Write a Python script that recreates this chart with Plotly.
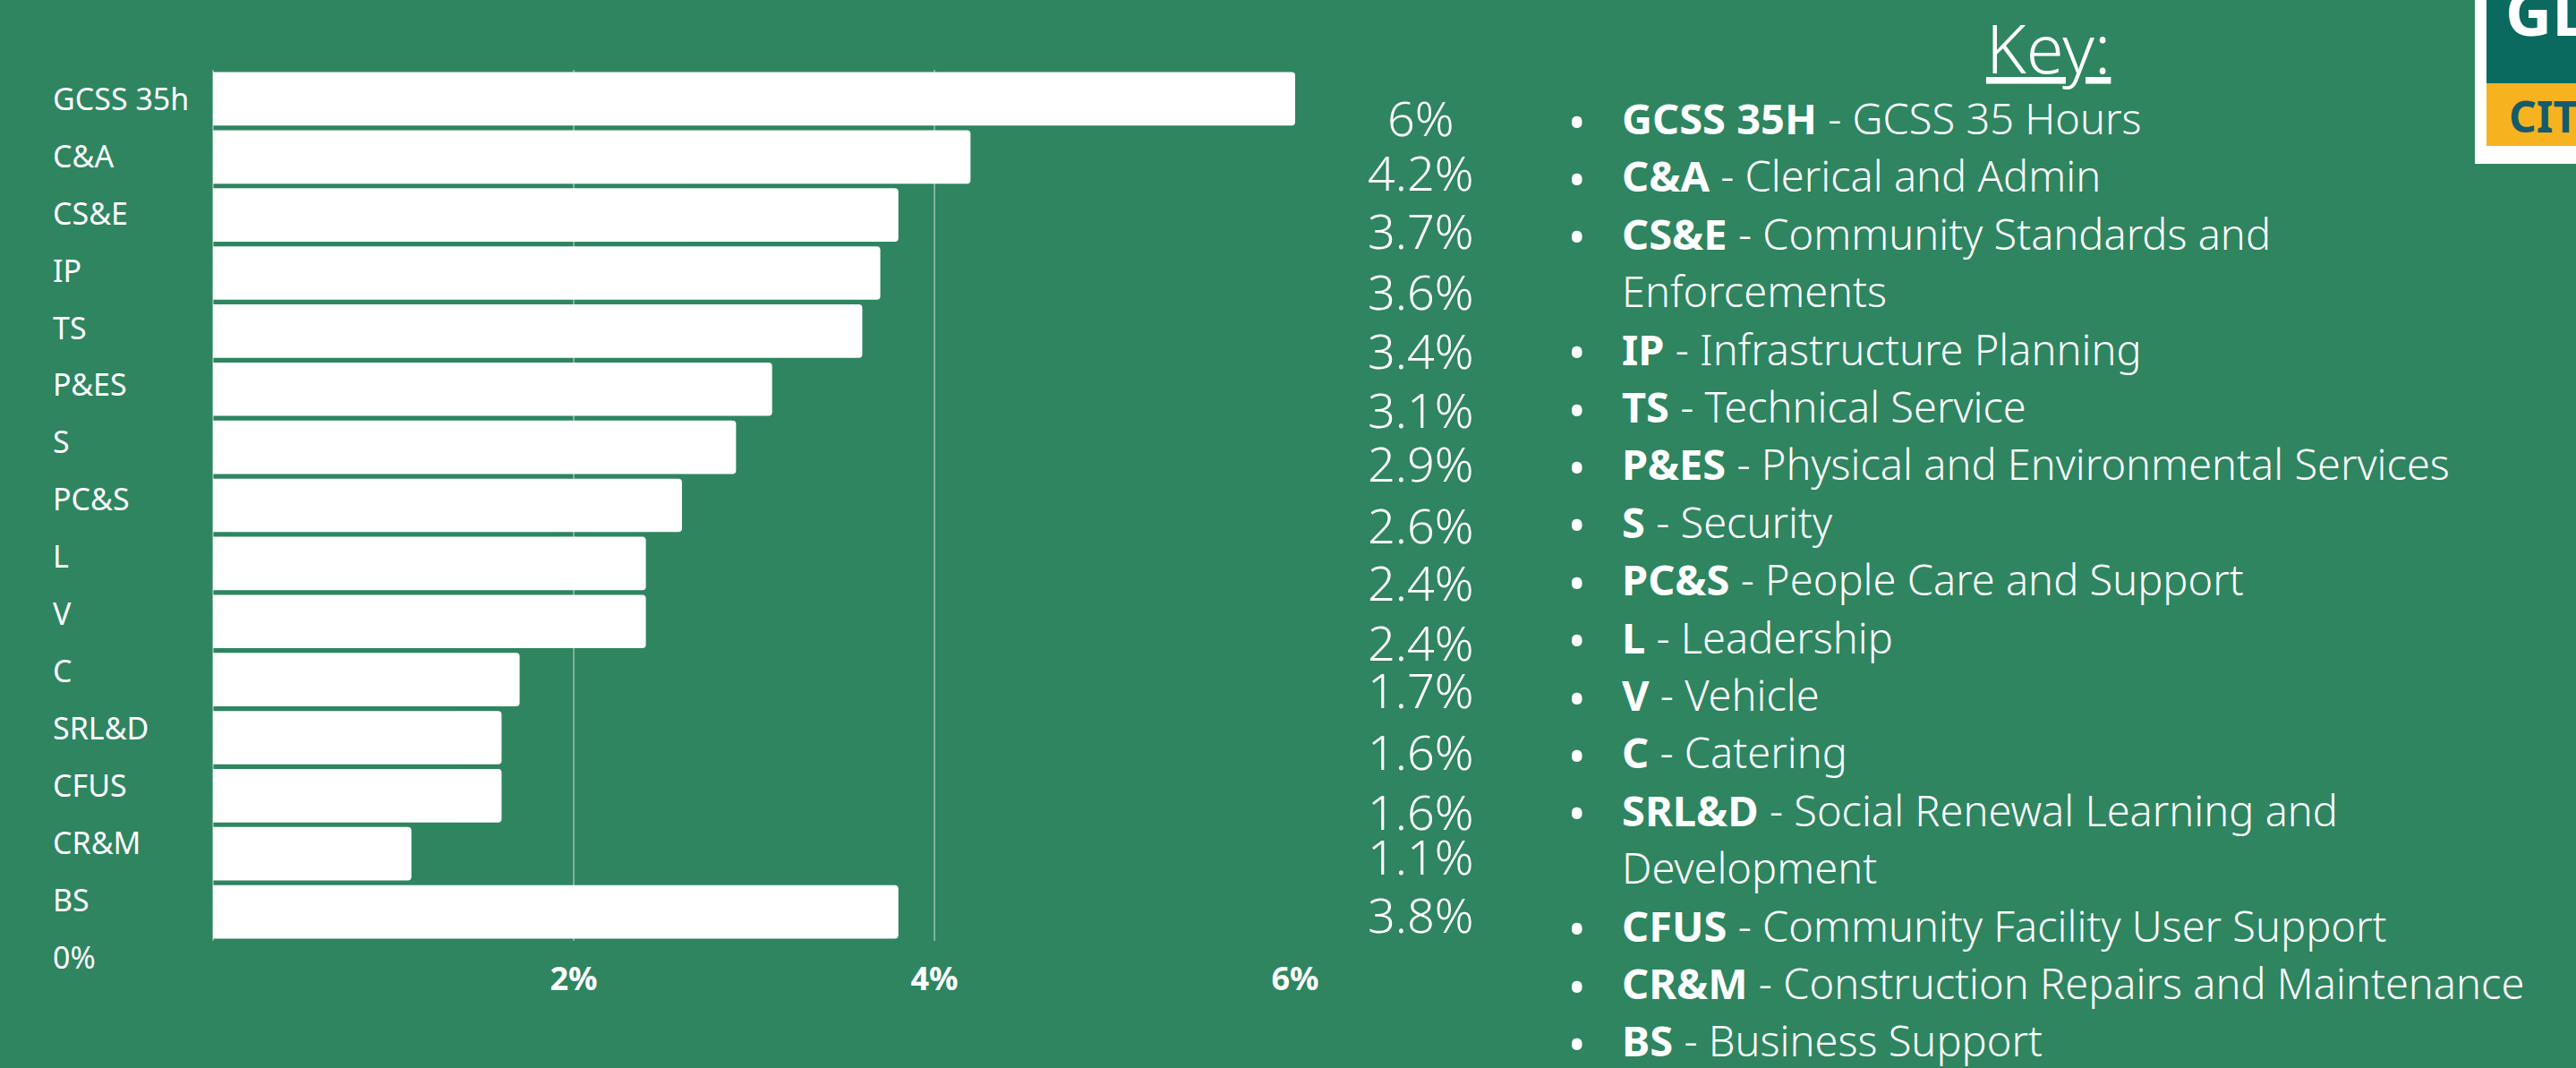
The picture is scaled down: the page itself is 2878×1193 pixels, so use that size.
import plotly.graph_objects as go

# ---------------- data ----------------
categories = ["GCSS 35h", "C&A", "CS&E", "IP", "TS", "P&ES", "S", "PC&S",
              "L", "V", "C", "SRL&D", "CFUS", "CR&M", "BS"]
values = [6.0, 4.2, 3.8, 3.7, 3.6, 3.1, 2.9, 2.6, 2.4, 2.4, 1.7, 1.6, 1.6, 1.1, 3.8]
value_labels = ["6%", "4.2%", "3.7%", "3.6%", "3.4%", "3.1%", "2.9%", "2.6%",
                "2.4%", "2.4%", "1.7%", "1.6%", "1.6%", "1.1%", "3.8%"]
x_tick_values = [2, 4, 6]
x_tick_labels = ["2%", "4%", "6%"]
zero_label = "0%"
key_title = "Key:"
key_abbr = ["GCSS 35H", "C&A", "CS&E", "IP", "TS", "P&ES", "S", "PC&S",
            "L", "V", "C", "SRL&D", "CFUS", "CR&M", "BS"]
key_names = ["GCSS 35 Hours", "Clerical and Admin", "Community Standards and Enforcements",
             "Infrastructure Planning", "Technical Service", "Physical and Environmental Services",
             "Security", "People Care and Support", "Leadership", "Vehicle", "Catering",
             "Social Renewal Learning and Development", "Community Facility User Support",
             "Construction Repairs and Maintenance", "Business Support"]
logo_top_text = "GLASGOW"
logo_bottom_text = "CITY COUNCIL"

# ---------------- layout constants (pixels) ----------------
FIG_W, FIG_H = 2878, 1193
L, R, T, B = 238, 1447, 78, 1051
BG = "#2e8560"
WHITE = "#ffffff"
GRID = "rgba(255,255,255,0.38)"
FONT = "Noto Sans"


def px(x):
    return (x - L) / (R - L)


def py(y):
    return (B - y) / (B - T)


fig = go.Figure()
fig.add_trace(go.Bar(
    x=values, y=categories, orientation="h",
    marker=dict(color=WHITE, line=dict(width=0), cornerradius=4),
    hoverinfo="skip", showlegend=False,
))

annotations = []

# left column of category labels (a text column ending with "0%")
left_lines = categories + [zero_label]
for i, t in enumerate(left_lines):
    annotations.append(dict(
        text=t, xref="paper", yref="paper", x=px(57), y=py(110 + 63.9 * i),
        xanchor="left", yanchor="middle", showarrow=False,
        font=dict(family=FONT, size=34, color=WHITE)))

# value label column (separate text box, slightly offset from bars)
label_drop_px = [21, 17, 17, 20, 21, 22, 17, 21, 21, 23, 11, 15, 17, 2, 2]
for cat, lab, d in zip(categories, value_labels, label_drop_px):
    annotations.append(dict(
        text=lab, xref="paper", yref="y", x=px(1587), y=cat, yshift=-d,
        xanchor="center", yanchor="middle", showarrow=False,
        font=dict(family=FONT, size=54, color=WHITE, weight=300)))

# key title
annotations.append(dict(
    text="<u>" + key_title + "</u>", xref="paper", yref="paper",
    x=px(2288), y=py(52), xanchor="center", yanchor="middle", showarrow=False,
    font=dict(family=FONT, size=76, color=WHITE, weight=300)))

# key lines
wrap_words = {2: 3, 11: 4}  # entries that wrap onto a second line
lines = []
for i, (a, n) in enumerate(zip(key_abbr, key_names)):
    if i in wrap_words:
        w = n.split(" ")
        k = wrap_words[i]
        lines.append((True, "<b>" + a + "</b> - " + " ".join(w[:k])))
        lines.append((False, " ".join(w[k:])))
    else:
        lines.append((True, "<b>" + a + "</b> - " + n))

for k, (bullet, txt) in enumerate(lines):
    yc = 132 + 64.4 * k
    annotations.append(dict(
        text=txt, xref="paper", yref="paper", x=px(1810), y=py(yc),
        xanchor="left", yanchor="middle", showarrow=False,
        font=dict(family=FONT, size=47, color=WHITE, weight=300)))
    if bullet:
        annotations.append(dict(
            text="\u2022", xref="paper", yref="paper", x=px(1762), y=py(yc + 3),
            xanchor="center", yanchor="middle", showarrow=False,
            font=dict(family=FONT, size=52, color=WHITE)))

# logo (partially visible at top right)
shapes = [
    dict(type="rect", xref="paper", yref="paper", x0=px(2765), x1=px(2900),
         y0=py(183), y1=py(-5), fillcolor=WHITE, line=dict(width=0), layer="above"),
    dict(type="rect", xref="paper", yref="paper", x0=px(2778), x1=px(2900),
         y0=py(93), y1=py(-5), fillcolor="#0b6a5f", line=dict(width=0), layer="above"),
    dict(type="rect", xref="paper", yref="paper", x0=px(2778), x1=px(2900),
         y0=py(163), y1=py(93), fillcolor="#f6b21f", line=dict(width=0), layer="above"),
]
annotations.append(dict(
    text="<b>" + logo_top_text + "</b>", xref="paper", yref="paper",
    x=px(2797), y=py(12), xanchor="left", yanchor="middle", showarrow=False,
    font=dict(family=FONT, size=72, color=WHITE)))
annotations.append(dict(
    text="<b>" + logo_bottom_text + "</b>", xref="paper", yref="paper",
    x=px(2801), y=py(129), xanchor="left", yanchor="middle", showarrow=False,
    font=dict(family=FONT, size=48, color="#145b6b")))

fig.update_layout(
    width=FIG_W, height=FIG_H,
    margin=dict(l=L, r=FIG_W - R, t=T, b=FIG_H - B, pad=0),
    paper_bgcolor=BG, plot_bgcolor=BG,
    bargap=0.08,
    showlegend=False,
    annotations=annotations,
    shapes=shapes,
    xaxis=dict(
        range=[0, 6], tickvals=x_tick_values, ticktext=x_tick_labels,
        showgrid=True, gridcolor=GRID, gridwidth=1.5,
        zeroline=True, zerolinecolor=GRID, zerolinewidth=1.5,
        showline=False, ticks="", ticklabelstandoff=18,
        tickfont=dict(family=FONT, size=36, color=WHITE, weight="bold"),
        fixedrange=True,
    ),
    yaxis=dict(
        categoryorder="array", categoryarray=categories,
        range=[len(categories) - 0.5, -0.5], autorange=False,
        showticklabels=False, showgrid=False, zeroline=False, showline=False,
        ticks="", fixedrange=True,
    ),
)

fig.write_html(
    "out.html",
    config={"displayModeBar": False, "staticPlot": True},
    post_script="document.body.style.margin='0';document.body.style.overflow='hidden';",
)
